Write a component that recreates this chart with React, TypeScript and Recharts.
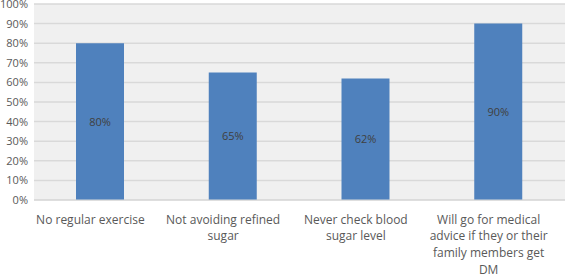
import React from "react";
import { BarChart, Bar, XAxis, YAxis, CartesianGrid, LabelList } from "recharts";

const categories = [
  "No regular exercise",
  "Not avoiding refined sugar",
  "Never check blood sugar level",
  "Will go for medical advice if they or their family members get DM",
];
const values = [80, 65, 62, 90];
const yTicks = [0, 10, 20, 30, 40, 50, 60, 70, 80, 90, 100];

const data = categories.map((c, i) => ({ name: c, value: values[i] }));

const FONT = "'Open Sans', sans-serif";
const TICK_SIZE = 12;

let ctx: CanvasRenderingContext2D | null = null;
function measure(t: string): number {
  if (!ctx) {
    const c = document.createElement("canvas");
    ctx = c.getContext("2d");
  }
  if (!ctx) return t.length * 6.5;
  ctx.font = `${TICK_SIZE}px 'Open Sans'`;
  return ctx.measureText(t).width;
}

function wrap(text: string, maxW: number): string[] {
  const words = text.split(" ");
  const lines: string[] = [];
  let cur = "";
  for (const w of words) {
    const test = cur ? cur + " " + w : w;
    if (measure(test) > maxW && cur) {
      lines.push(cur);
      cur = w;
    } else cur = test;
  }
  if (cur) lines.push(cur);
  return lines;
}

const XTick = (props: any) => {
  const { x, y, payload } = props;
  const lines = wrap(String(payload.value), 126);
  const cx = x - 10;
  return (
    <text x={cx} y={y} textAnchor="middle" fill="#595959" fontSize={TICK_SIZE} fontFamily={FONT}>
      {lines.map((l, i) => (
        <tspan key={i} x={cx} y={y + 21.5 + i * 16.8}>
          {l}
        </tspan>
      ))}
    </text>
  );
};

export default function App() {
  return (
    <div style={{ position: "fixed", left: 0, top: 0, width: 567, height: 274, background: "#fff" }}>
      <BarChart
        width={567}
        height={274}
        data={data}
        margin={{ top: 4, right: 2, left: 0, bottom: 0 }}
        barSize={48}
      >
        <CartesianGrid vertical={false} stroke="#d9d9d9" fill="#f0f0f0" strokeWidth={1.5} />
        <XAxis
          dataKey="name"
          axisLine={{ stroke: "#d9d9d9" }}
          tickLine={false}
          tickSize={0}
          height={74}
          interval={0}
          tick={<XTick />}
        />
        <YAxis
          domain={[0, 100]}
          ticks={yTicks}
          interval={0}
          tickFormatter={(v: number) => `${v}%`}
          axisLine={false}
          tickLine={false}
          tickSize={0}
          tickMargin={6}
          width={34}
          tick={{ fill: "#595959", fontSize: 11, fontFamily: FONT }}
        />
        <Bar dataKey="value" fill="#4f81bd" isAnimationActive={false}>
          <LabelList
            dataKey="value"
            position="center"
            formatter={(v: any) => `${v}%`}
            fill="#404040"
            fontSize={11}
            fontFamily={FONT}
          />
        </Bar>
      </BarChart>
    </div>
  );
}
